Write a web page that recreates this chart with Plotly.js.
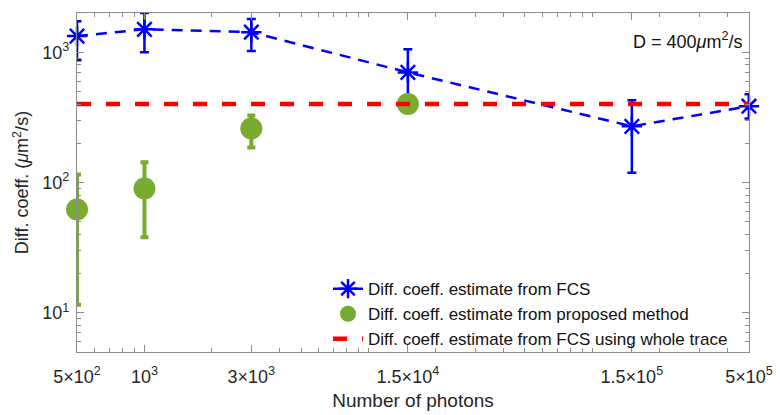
<!DOCTYPE html>
<html>
<head>
<meta charset="utf-8">
<script src="https://cdn.plot.ly/plotly-3.0.1.min.js"></script>
<style>
  html, body { margin: 0; padding: 0; background: #fff; }
  #chart { width: 780px; height: 415px; }
</style>
</head>
<body>
<div id="chart"></div>
<script>
// Number of photons used for each estimate
const photons = [500, 1000, 3000, 15000, 150000, 500000];

// Diffusion coefficient estimates from FCS (µm²/s) with error bounds
const fcsValue = [1330, 1500, 1425, 700, 270, 385];
const fcsUpper = [1730, 2000, 1795, 1055, 428, 475];
const fcsLower = [868, 1000, 1020, 420, 119, 310];

// Estimates from the proposed method (first four photon counts)
const propPhotons = [500, 1000, 3000, 15000];
const propValue = [62, 90, 260, 400];
const propUpper = [115, 143, 327, 420];
const propLower = [11.5, 38, 186, 380];

// FCS estimate using the whole trace (reference level)
const wholeTrace = 400;

// Axis tick positions and labels
const xTickVals = [500, 1000, 3000, 15000, 150000, 500000];
const xTickText = ['5×10<sup>2</sup>', '10<sup>3</sup>', '3×10<sup>3</sup>',
                   '1.5×10<sup>4</sup>', '1.5×10<sup>5</sup>', '5×10<sup>5</sup>'];
const yTickVals = [10, 100, 1000];
const yTickText = ['10<sup>1</sup>', '10<sup>2</sup>', '10<sup>3</sup>'];

// Minor ticks at every integer multiple within each decade
function minorTicks(lo, hi, skip) {
  const out = [];
  for (let e = Math.floor(Math.log10(lo)); e <= Math.ceil(Math.log10(hi)); e++) {
    for (let m = 1; m <= 9; m++) {
      const v = m * Math.pow(10, e);
      if (v >= lo && v <= hi && skip.indexOf(v) === -1) out.push(v);
    }
  }
  return out;
}

const plusOf = (hi, v) => hi.map((h, i) => h - v[i]);
const minusOf = (lo, v) => lo.map((l, i) => v[i] - l);

const blue = '#0000ff';
const green = '#77ac30';
const red = '#ff0000';
const axisGray = '#8c8c8c';
const textColor = '#262626';
const font = 'Liberation Sans, Arial, Helvetica, sans-serif';

// a hair of padding so the end points are not treated as out of range
const eps = 1e-4;
const xRange = [Math.log10(500) - eps, Math.log10(500000) + eps];
const yRange = [Math.log10(5), Math.log10(2000)];

const traces = [
  {
    name: 'Diff. coeff. estimate from FCS',
    x: photons, y: fcsValue,
    mode: 'lines+markers', cliponaxis: false,
    line: { color: blue, width: 2.5, dash: '11px,8px' },
    marker: { symbol: 'asterisk-open', size: 17, color: blue, line: { color: blue, width: 2.5 } },
    error_y: {
      type: 'data', symmetric: false,
      array: plusOf(fcsUpper, fcsValue),
      arrayminus: minusOf(fcsLower, fcsValue),
      color: blue, thickness: 2.5, width: 4.5
    }
  },
  {
    name: 'Diff. coeff. estimate from proposed method',
    x: propPhotons, y: propValue,
    mode: 'markers', cliponaxis: false,
    marker: { symbol: 'circle', size: 22, color: green },
    error_y: {
      type: 'data', symmetric: false,
      array: plusOf(propUpper, propValue),
      arrayminus: minusOf(propLower, propValue),
      color: green, thickness: 4, width: 4
    }
  },
  {
    name: 'Diff. coeff. estimate from FCS using whole trace',
    x: [photons[0], photons[photons.length - 1]],
    y: [wholeTrace, wholeTrace],
    mode: 'lines', cliponaxis: false,
    line: { color: red, width: 4.5, dash: '14px,15px' }
  },
  // empty trace that brings up the top/right tick frame
  { x: [], y: [], xaxis: 'x2', yaxis: 'y2', mode: 'markers', showlegend: false, hoverinfo: 'skip' }
];

const tickStyle = {
  ticks: 'inside', ticklen: 7, tickcolor: axisGray, tickwidth: 1,
  showgrid: false, zeroline: false
};
const minorStyle = { ticks: 'inside', ticklen: 4, tickcolor: axisGray, showgrid: false };

const layout = {
  width: 780, height: 415,
  margin: { l: 77, r: 31, t: 13, b: 63 },
  paper_bgcolor: '#fff', plot_bgcolor: '#fff',
  font: { family: font, size: 18, color: textColor },
  showlegend: true,
  legend: {
    x: 0.3735, y: -0.015, xanchor: 'left', yanchor: 'bottom',
    bgcolor: 'rgba(0,0,0,0)', borderwidth: 0,
    font: { family: font, size: 17, color: '#111' },
    tracegroupgap: 0
  },
  xaxis: Object.assign({
    type: 'log', range: xRange,
    tickmode: 'array', tickvals: xTickVals, ticktext: xTickText,
    minor: Object.assign({ tickmode: 'array', tickvals: minorTicks(500, 500000, xTickVals) }, minorStyle),
    showline: true, linecolor: axisGray, linewidth: 1.2, mirror: true,
    ticklabelstandoff: 8,
    tickfont: { size: 18, color: textColor },
    title: { text: 'Number of photons', font: { size: 19, color: textColor }, standoff: 8 }
  }, tickStyle),
  yaxis: Object.assign({
    type: 'log', range: yRange,
    tickmode: 'array', tickvals: yTickVals, ticktext: yTickText,
    minor: Object.assign({ tickmode: 'array', tickvals: minorTicks(5, 2000, yTickVals) }, minorStyle),
    showline: true, linecolor: axisGray, linewidth: 1.2, mirror: true,
    ticklabelstandoff: 3,
    tickfont: { size: 18, color: textColor },
    title: { text: 'Diff. coeff. (<i>μ</i>m<sup>2</sup>/s)', font: { size: 18, color: textColor }, standoff: 8 }
  }, tickStyle),
  xaxis2: Object.assign({
    type: 'log', range: xRange, overlaying: 'x', side: 'top', anchor: 'y2',
    tickmode: 'array', tickvals: xTickVals, showticklabels: false,
    minor: Object.assign({ tickmode: 'array', tickvals: minorTicks(500, 500000, xTickVals) }, minorStyle),
    showline: false
  }, tickStyle),
  yaxis2: Object.assign({
    type: 'log', range: yRange, overlaying: 'y', side: 'right', anchor: 'x2',
    tickmode: 'array', tickvals: yTickVals, showticklabels: false,
    minor: Object.assign({ tickmode: 'array', tickvals: minorTicks(5, 2000, yTickVals) }, minorStyle),
    showline: false
  }, tickStyle),
  annotations: [
    {
      xref: 'paper', yref: 'paper', x: 0.992, y: 0.92,
      xanchor: 'right', yanchor: 'middle', showarrow: false,
      text: 'D = 400<i>μ</i>m<sup>2</sup>/s',
      font: { family: font, size: 18, color: '#111' }
    }
  ]
};

Plotly.newPlot('chart', traces, layout, { displayModeBar: false, staticPlot: true });
</script>
</body>
</html>
